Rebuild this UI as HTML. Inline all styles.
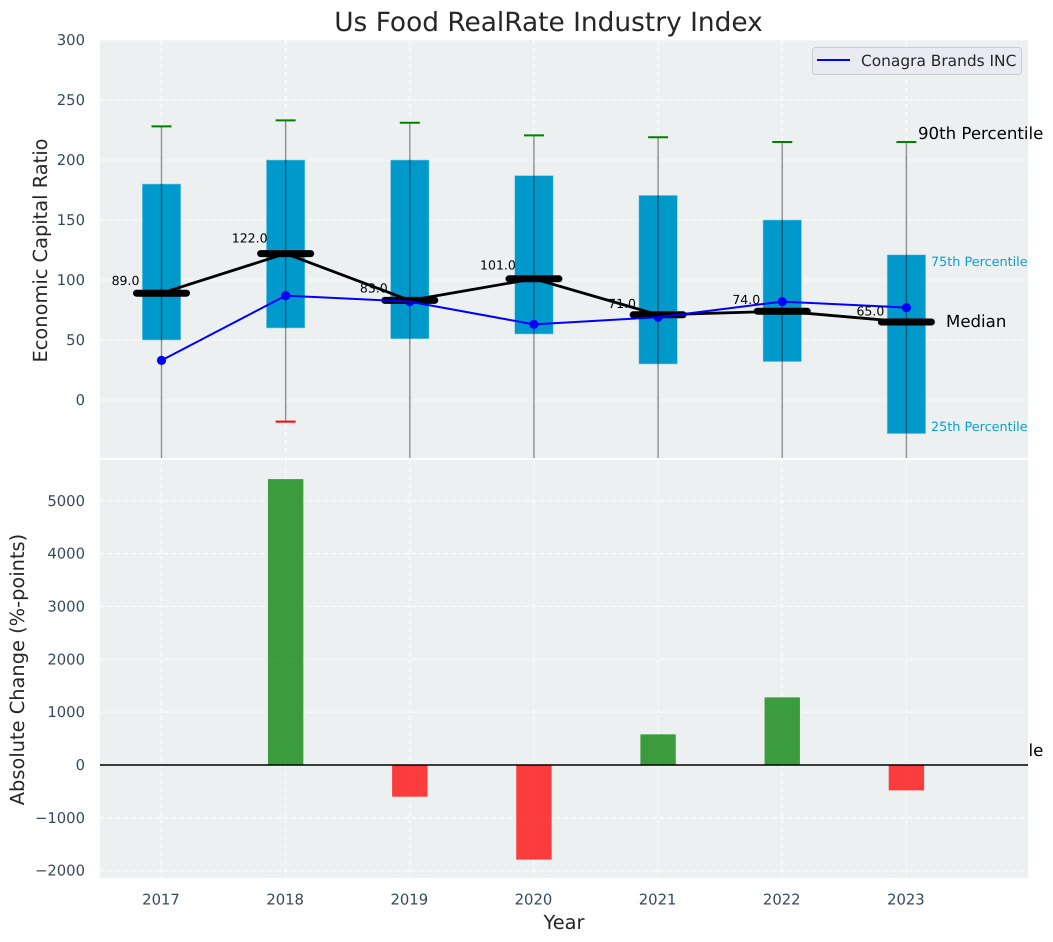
<!DOCTYPE html>
<html>
<head>
<meta charset="utf-8">
<title>Us Food RealRate Industry Index</title>
<style>
html,body{margin:0;padding:0;background:#fff;}
svg{display:block;font-family:"DejaVu Sans","Liberation Sans",sans-serif;text-rendering:geometricPrecision;}
</style>
</head>
<body>
<svg id="chart" xmlns="http://www.w3.org/2000/svg" width="1053" height="942" viewBox="0 0 1053 942">
<defs>
<clipPath id="top-clip"><rect x="100" y="40" width="928" height="418"></rect></clipPath>
<clipPath id="bottom-clip"><rect x="100" y="460" width="928" height="418"></rect></clipPath>
</defs>
<text x="548.5" y="31" text-anchor="middle" font-size="26.4" fill="#262626">Us Food RealRate Industry Index</text>
<text transform="translate(47,250.5) rotate(-90)" text-anchor="middle" font-size="19.4" fill="#262626">Economic Capital Ratio</text>
<text transform="translate(24,669.5) rotate(-90)" text-anchor="middle" font-size="19.4" fill="#262626">Absolute Change (%-points)</text>
<text x="564" y="929" text-anchor="middle" font-size="19.4" fill="#262626">Year</text>
<g id="top-panel"></g>
<text x="918" y="756" font-size="16.6" fill="#000">10th Percentile</text>
<g id="bottom-panel"></g>
<g id="annotations">
<text x="918" y="139" font-size="16.6" fill="#000">90th Percentile</text>
<text x="946" y="327" font-size="16.6" fill="#000">Median</text>
<text x="931" y="266" font-size="12.8" fill="#0a9fd0">75th Percentile</text>
<text x="931" y="431" font-size="12.8" fill="#0a9fd0">25th Percentile</text>
</g>
<g id="legend">
<rect x="812.5" y="47.5" width="209" height="27" rx="3" fill="#eaeaf2" stroke="#cccccc" stroke-width="1"></rect>
<line x1="817" y1="60" x2="850" y2="60" stroke="#0000ff" stroke-width="2"></line>
<text x="861" y="66" font-size="15.4" fill="#262626">Conagra Brands INC</text>
</g>
</svg>
<script>
const years = [2017, 2018, 2019, 2020, 2021, 2022, 2023];
const p90 = [228, 233, 231, 220.5, 219, 215, 215];
const p75 = [180, 200, 200, 187, 170.5, 150, 121];
const medians = [89, 122, 83, 101, 71, 74, 65];
const p25 = [50, 60, 51, 55, 30, 32, -28];
const p10 = [-70, -18, -70, -70, -70, -70, -70];
const company = [33, 87, 82, 63, 69, 82, 77];
const changeYears = [2018, 2019, 2020, 2021, 2022, 2023];
const changes = [5410, -600, -1790, 580, 1280, -480];
const topTicks = [0, 50, 100, 150, 200, 250, 300];
const bottomTicks = [-2000, -1000, 0, 1000, 2000, 3000, 4000, 5000];

const NS = 'http://www.w3.org/2000/svg';
const xScale = v => 161.5 + (v - 2017) * 124.15;
const yTop = v => 400 - v * 1.2;
const yBottom = v => 765 - v * 0.05285;
const boxW = 0.31 * 124.15;
const barW = 0.285 * 124.15;

function make(parent, tag, attrs, text) {
  const el = document.createElementNS(NS, tag);
  for (const k in attrs) el.setAttribute(k, attrs[k]);
  if (text !== undefined) el.textContent = text;
  parent.appendChild(el);
  return el;
}
const GRID = {stroke: '#ffffff', 'stroke-width': 1.2, 'stroke-dasharray': '5 3', opacity: 0.85};
function gridAttrs(a) { return Object.assign({}, GRID, a); }

const topPanel = document.getElementById('top-panel');
const bottomPanel = document.getElementById('bottom-panel');

let el = make(topPanel, 'rect', {x: 100, y: 40, width: 928, height: 418, fill: '#ecf0f1'});



topTicks.forEach(t => {
  const g = make(topPanel, 'line', gridAttrs({x1: 100, x2: 1028, y1: yTop(t), y2: yTop(t)}));
  
  
  const l = make(topPanel, 'text', {x: 85, y: yTop(t) + 5, 'text-anchor': 'end', 'font-size': 14.8, fill: '#34495e'}, String(t));
  
  
});

years.forEach(y => {
  const g = make(topPanel, 'line', gridAttrs({x1: xScale(y), x2: xScale(y), y1: 40, y2: 458}));
  
  
});

const topMarks = make(topPanel, 'g', {'clip-path': 'url(#top-clip)'});



years.forEach((y, i) => {
  const x = xScale(y);
  const box = make(topMarks, 'rect', {x: x - boxW / 2, y: yTop(p75[i]), width: boxW, height: yTop(p25[i]) - yTop(p75[i]), fill: '#0099cc', stroke: '#8fd0e6', 'stroke-width': 0.6});
  
  
});

years.forEach((y, i) => {
  const x = xScale(y);
  const w = make(topMarks, 'line', {x1: x, x2: x, y1: yTop(p90[i]), y2: yTop(p10[i]), stroke: '#000', 'stroke-opacity': 0.42, 'stroke-width': 1.4});
  
  
  const hi = make(topMarks, 'line', {x1: x - 10, x2: x + 10, y1: yTop(p90[i]), y2: yTop(p90[i]), stroke: '#008000', 'stroke-width': 2});
  
  
  const lo = make(topMarks, 'line', {x1: x - 10, x2: x + 10, y1: yTop(p10[i]), y2: yTop(p10[i]), stroke: '#ff0000', 'stroke-width': 2});
  
  
});

years.forEach((y, i) => {
  const t = make(topPanel, 'text', {x: xScale(y) - 36, y: yTop(medians[i] * 1.07 + 4.5) + 4.5, 'text-anchor': 'middle', 'font-size': 12.5, fill: '#000'}, medians[i].toFixed(1));
  
  
});

const companyPoints = years.map((y, i) => xScale(y) + ',' + yTop(company[i])).join(' ');
const medianPoints = years.map((y, i) => xScale(y) + ',' + yTop(medians[i])).join(' ');

years.forEach((y, i) => {
  const d = make(topMarks, 'circle', {cx: xScale(y), cy: yTop(company[i]), r: 4.6, fill: '#0000ff'});
  
  
});

const medianLine = make(topMarks, 'polyline', {points: medianPoints, fill: 'none', stroke: '#000', 'stroke-width': 2.8});



years.forEach((y, i) => {
  const x = xScale(y);
  const m = make(topMarks, 'line', {x1: x - 25, x2: x + 25, y1: yTop(medians[i]), y2: yTop(medians[i]), stroke: '#000', 'stroke-width': 7, 'stroke-linecap': 'round'});
  
  
});

const companyLine = make(topMarks, 'polyline', {points: companyPoints, fill: 'none', stroke: '#0000ff', 'stroke-width': 2});



el = make(bottomPanel, 'rect', {x: 100, y: 460, width: 928, height: 418, fill: '#ecf0f1'});



bottomTicks.forEach(t => {
  const g = make(bottomPanel, 'line', gridAttrs({x1: 100, x2: 1028, y1: yBottom(t), y2: yBottom(t)}));
  
  
  const l = make(bottomPanel, 'text', {x: 85, y: yBottom(t) + 5, 'text-anchor': 'end', 'font-size': 14.8, fill: '#34495e'}, String(t).replace('-', '\u2212'));
  
  
});

years.forEach(y => {
  const g = make(bottomPanel, 'line', gridAttrs({x1: xScale(y), x2: xScale(y), y1: 460, y2: 878}));
  
  
  const l = make(bottomPanel, 'text', {x: xScale(y) - 0.5, y: 904.5, 'text-anchor': 'middle', 'font-size': 14.8, fill: '#34495e'}, String(y));
  
  
});

const bottomMarks = make(bottomPanel, 'g', {'clip-path': 'url(#bottom-clip)'});



changeYears.forEach((y, i) => {
  const v = changes[i];
  const top = Math.min(yBottom(v), yBottom(0));
  const h = Math.abs(yBottom(v) - yBottom(0));
  const b = make(bottomMarks, 'rect', {x: xScale(y) - barW / 2, y: top, width: barW, height: h, fill: v >= 0 ? '#008000' : '#ff0000', 'fill-opacity': 0.75});
  
  
});

const zero = make(bottomMarks, 'line', {x1: 100, x2: 1028, y1: yBottom(0), y2: yBottom(0), stroke: '#000', 'stroke-width': 1.5});


</script>
</body>
</html>
